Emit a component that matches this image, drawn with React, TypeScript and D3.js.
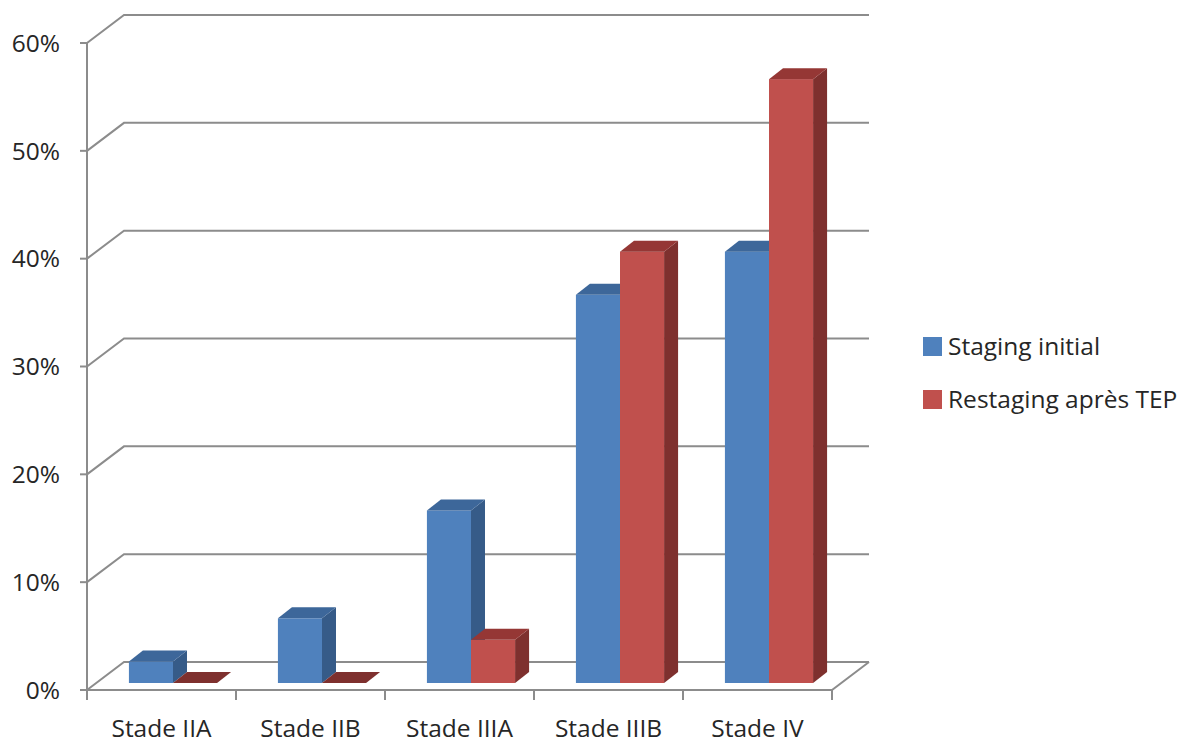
import React from "react";
import * as d3 from "d3";

const categories = ["Stade IIA", "Stade IIB", "Stade IIIA", "Stade IIIB", "Stade IV"];
const seriesNames = ["Staging initial", "Restaging après TEP"];
const stagingInitial = [0.02, 0.06, 0.16, 0.36, 0.40];
const restagingTEP = [0.0, 0.0, 0.04, 0.40, 0.56];
const yTicks = [0, 0.1, 0.2, 0.3, 0.4, 0.5, 0.6];
const tickLabels = ["0%", "10%", "20%", "30%", "40%", "50%", "60%"];

const colors = [
  { front: "#4F81BD", top: "#3D679A", side: "#365B88" },
  { front: "#C0504D", top: "#953735", side: "#7E302E" },
];

export default function App() {
  const W = 1191, H = 745;
  const x0 = 87, x1 = 832;
  const y = d3.scaleLinear().domain([0, 0.6]).range([690, 43]);
  const wall = { dx: 37, dy: -28 };
  const front = { dx: 11.5, dy: -7 };
  const depth = { dx: 14, dy: -11 };

  const xCat = d3.scaleBand<string>().domain(categories).range([x0, x1]).padding(0);
  const xSer = d3.scaleBand<string>().domain(seriesNames).range([0, xCat.bandwidth()]).paddingInner(0).paddingOuter(0.69);

  const data = [stagingInitial, restagingTEP];
  const font = "'Open Sans', sans-serif";
  const fs = 24.5;
  const grid = "#8C8C8C";

  const bars: React.ReactNode[] = [];
  categories.forEach((c, i) => {
    seriesNames.forEach((s, j) => {
      const v = data[j][i];
      const bx = (xCat(c) as number) + (xSer(s) as number) + front.dx;
      const bw = xSer.bandwidth();
      const yb = y(0) + front.dy;
      const yt = y(v) + front.dy;
      const col = colors[j];
      const topPts = [
        [bx, yt], [bx + bw, yt], [bx + bw + depth.dx, yt + depth.dy], [bx + depth.dx, yt + depth.dy],
      ];
      const sidePts = [
        [bx + bw, yt], [bx + bw + depth.dx, yt + depth.dy], [bx + bw + depth.dx, yb + depth.dy], [bx + bw, yb],
      ];
      bars.push(
        <g key={`${i}-${j}`}>
          {v > 0 && <polygon points={sidePts.map((p) => p.join(",")).join(" ")} fill={col.side} />}
          {v > 0 && <rect x={bx} y={yt} width={bw} height={yb - yt} fill={col.front} />}
          <polygon points={topPts.map((p) => p.join(",")).join(" ")} fill={v > 0 ? col.top : col.side} />
        </g>
      );
    });
  });

  return (
    <svg width={W} height={H} style={{ position: "absolute", left: 0, top: 0, background: "#fff" }}>
      {yTicks.map((t) => (
        <path key={t} d={`M${x0},${y(t)} L${x0 + wall.dx},${y(t) + wall.dy} L${x1 + wall.dx},${y(t) + wall.dy}`} fill="none" stroke={grid} strokeWidth={2} />
      ))}
      <path d={`M${x0},${y(0)} L${x1},${y(0)} L${x1 + wall.dx},${y(0) + wall.dy}`} fill="none" stroke={grid} strokeWidth={2} />
      <line x1={x0} y1={y(0.6)} x2={x0} y2={y(0) + 10} stroke={grid} strokeWidth={2} />
      {yTicks.map((t) => (
        <line key={"yt" + t} x1={x0 - 7} y1={y(t)} x2={x0} y2={y(t)} stroke={grid} strokeWidth={2} />
      ))}
      {d3.range(categories.length + 1).map((k) => {
        const xx = x0 + k * xCat.step();
        return <line key={"xt" + k} x1={xx} y1={y(0)} x2={xx} y2={y(0) + 10} stroke={grid} strokeWidth={2} />;
      })}
      {bars}
      {yTicks.map((t, i) => (
        <text key={"yl" + t} x={60} y={y(t)} dy="0.36em" textAnchor="end" fontFamily={font} fontSize={fs} fill="#262626">
          {tickLabels[i]}
        </text>
      ))}
      {categories.map((c) => (
        <text key={"xl" + c} x={(xCat(c) as number) + xCat.bandwidth() / 2} y={737} textAnchor="middle" fontFamily={font} fontSize={fs} fill="#262626">
          {c}
        </text>
      ))}
      {seriesNames.map((s, j) => (
        <g key={"lg" + s} transform={`translate(923, ${337 + j * 53})`}>
          <rect x={0} y={0} width={19} height={19} fill={colors[j].front} />
          <text x={25} y={9.5} dy="0.36em" fontFamily={font} fontSize={fs} fill="#262626">
            {s}
          </text>
        </g>
      ))}
    </svg>
  );
}
